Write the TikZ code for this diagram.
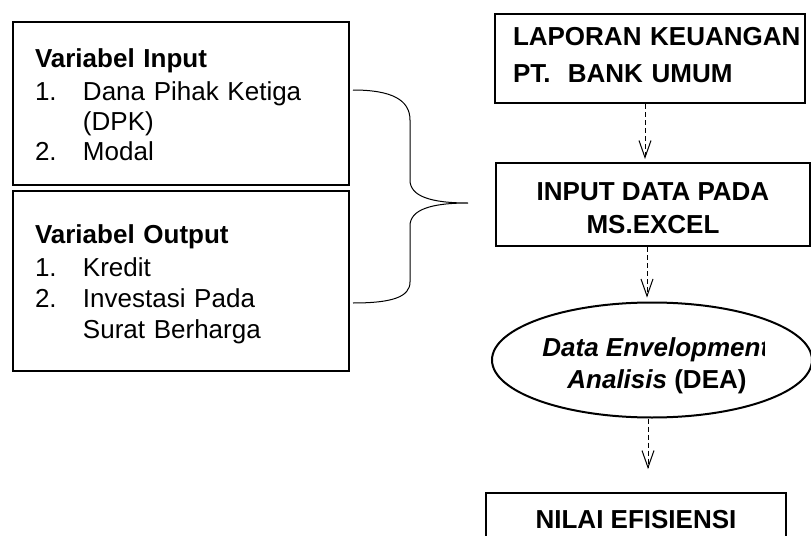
\documentclass[tikz,border=0pt]{standalone}
\usepackage{fontspec}
\setmainfont{Liberation Sans}
\usetikzlibrary{arrows.meta,shapes.geometric}
\newcommand{\butir}[2]{\makebox[24pt][l]{#1}\parbox[t]{122pt}{#2}}

\begin{document}
\begin{tikzpicture}[x=0.5pt,y=-0.5pt,>=Stealth,
    kotak/.style={draw,line width=1pt,inner sep=0pt},
    kiri/.style={kotak,minimum width=168pt,text width=146pt,inner xsep=11pt,align=left,
        font=\fontsize{13}{15.5}\selectfont},
    kanan/.style={kotak,font=\fontsize{13}{16.5}\selectfont\bfseries},
    panah/.style={->,dash pattern=on 2.5pt off 1.5pt,line width=0.5pt,
        arrows={-Straight Barb[length=8.5pt,width=6pt]}}]
    \useasboundingbox (0,0) rectangle (811,536);
    \clip (0,0) rectangle (811,536);
    % kotak variabel
    \node[kiri,minimum height=81.5pt,text height=11pt,text depth=47.5pt] (input) at (181,103.5)
        {\textbf{Variabel Input}\\[1pt]
        \butir{1.}{Dana Pihak Ketiga\\(DPK)}\\[1.5pt]
        \butir{2.}{Modal}};
    \node[kiri,minimum height=90pt,text height=12.2pt,text depth=50.2pt] (output) at (181,281)
        {\textbf{Variabel Output}\\[1pt]
        \butir{1.}{Kredit}\\
        \butir{2.}{Investasi Pada\\Surat Berharga}};
    % kurung kurawal
    \draw[line width=0.5pt] (353,90) .. controls (392,90) and (410,100) .. (410,120) -- (410,180)
        .. controls (410,196) and (430,203) .. (468,203)
        .. controls (430,203) and (410,210) .. (410,226) -- (410,282)
        .. controls (410,297) and (392,303) .. (353,303);
    % alur kanan
    \node[kanan,minimum width=155pt,minimum height=44.5pt,text width=137pt,inner xsep=9pt,
        align=left,text height=5pt,text depth=18.5pt,font=\fontsize{13}{18.5}\selectfont\bfseries]
        (lapor) at (650,58.5) {\mbox{LAPORAN KEUANGAN}\\\mbox{PT.\ \ BANK UMUM}};
    \node[kanan,minimum width=157pt,minimum height=41.5pt,align=center,text height=28.5pt,
        text depth=0pt] (excel) at (653,204.5) {INPUT DATA PADA\\MS.EXCEL};
    \node[ellipse,draw,line width=1pt,minimum width=160pt,minimum height=57.5pt,inner sep=0pt]
        (dea) at (652,360) {};
    \begin{scope}
        \clip (480,300) rectangle (764,420);
        \node[anchor=base west,inner sep=0pt,font=\fontsize{13}{16}\selectfont\bfseries\itshape]
            (dea1) at (542,356) {Data Envelopment};
        \node[anchor=base west,inner sep=0pt,font=\fontsize{13}{16}\selectfont\bfseries]
            (dea2) at (567,388) {\textit{Analisis} (DEA)};
    \end{scope}
    \node[kanan,minimum width=150pt,minimum height=27pt] (nilai) at (636,520) {NILAI EFISIENSI};
    % panah putus-putus
    \draw[panah,shorten >=1.5pt] ([xshift=-2.5pt]lapor.south) -- ([xshift=-2.5pt]lapor.south |- excel.north);
    \draw[panah,shorten >=2pt] ([xshift=-3pt]excel.south) -- ([xshift=-3pt]excel.south |- dea.north);
    \draw[panah,shorten >=11.5pt] ([xshift=-2pt]dea.south) -- ([xshift=-2pt]dea.south |- nilai.north);
\end{tikzpicture}
\end{document}
